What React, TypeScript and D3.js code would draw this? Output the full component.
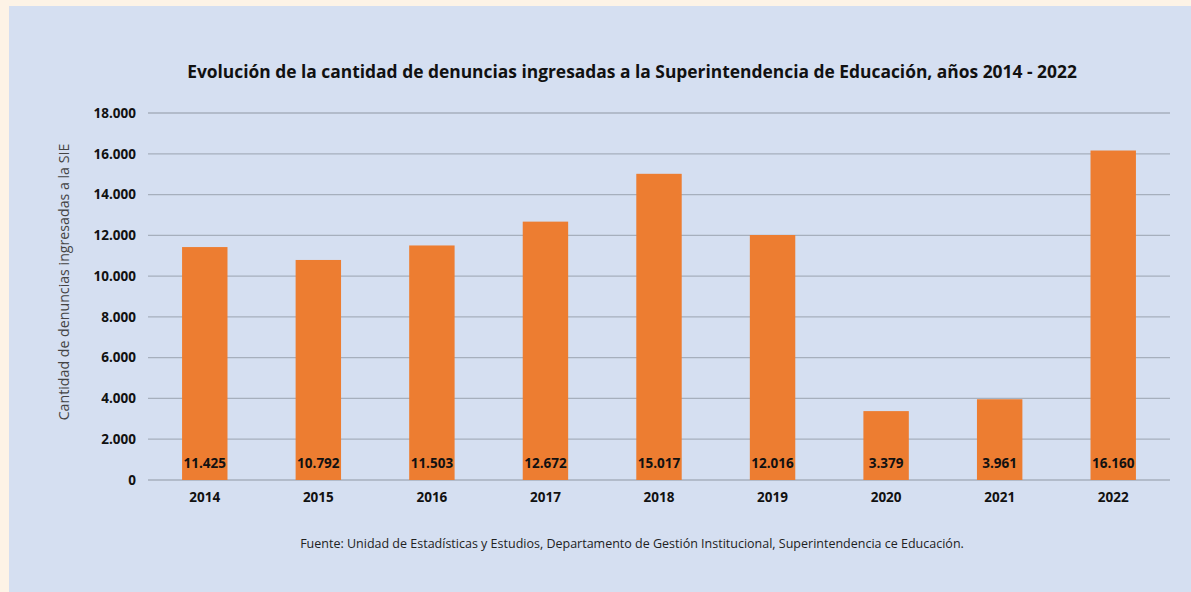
import React from "react";
import * as d3 from "d3";

const years = ["2014", "2015", "2016", "2017", "2018", "2019", "2020", "2021", "2022"];
const denuncias = [11425, 10792, 11503, 12672, 15017, 12016, 3379, 3961, 16160];
const yTicks = [0, 2000, 4000, 6000, 8000, 10000, 12000, 14000, 16000, 18000];

const W = 1191;
const H = 592;

const fmt = (v: number) => d3.format(",")(v).replace(/,/g, ".");

export default function App() {
  const left = 148, right = 1170, top = 113, bottom = 480;
  const x = d3.scaleBand<string>().domain(years).range([left, right]).paddingInner(0.6).paddingOuter(0.3);
  const y = d3.scaleLinear().domain([0, 18000]).range([bottom, top]);
  const font = "'Open Sans', 'Noto Sans', sans-serif";
  return (
    <svg width={W} height={H} style={{ position: "absolute", left: 0, top: 0 }} fontFamily={font}>
      <rect x={0} y={0} width={W} height={H} fill="#fdf3e6" />
      <rect x={9} y={6} width={W - 9} height={H - 6} fill="#d5dff1" />
      <text x={632} y={78} textAnchor="middle" fontSize={17.4} fontWeight={700} fill="#111">
        Evolución de la cantidad de denuncias ingresadas a la Superintendencia de Educación, años 2014 - 2022
      </text>
      {yTicks.map((t) => (
        <g key={t}>
          <line x1={left} x2={right} y1={y(t)} y2={y(t)} stroke="#a6afbd" strokeWidth={1.3} />
          <text x={136} y={y(t) + 4.8} textAnchor="end" fontSize={13.5} fontWeight={700} fill="#111">
            {fmt(t)}
          </text>
        </g>
      ))}
      {years.map((yr, i) => (
        <g key={yr}>
          <rect x={x(yr)!} y={y(denuncias[i])} width={x.bandwidth()} height={bottom - y(denuncias[i])} fill="#ed7d31" />
          <text x={x(yr)! + x.bandwidth() / 2} y={468} textAnchor="middle" fontSize={13.5} fontWeight={700} fill="#111">
            {fmt(denuncias[i])}
          </text>
          <text x={x(yr)! + x.bandwidth() / 2} y={502} textAnchor="middle" fontSize={13.5} fontWeight={700} fill="#111">
            {yr}
          </text>
        </g>
      ))}
      <text transform={`translate(69, 282) rotate(-90)`} textAnchor="middle" fontSize={14.2} fill="#444">
        Cantidad de denuncias ingresadas a la SIE
      </text>
      <text x={632} y={548} textAnchor="middle" fontSize={12.5} fill="#222">
        Fuente: Unidad de Estadísticas y Estudios, Departamento de Gestión Institucional, Superintendencia ce Educación.
      </text>
    </svg>
  );
}
